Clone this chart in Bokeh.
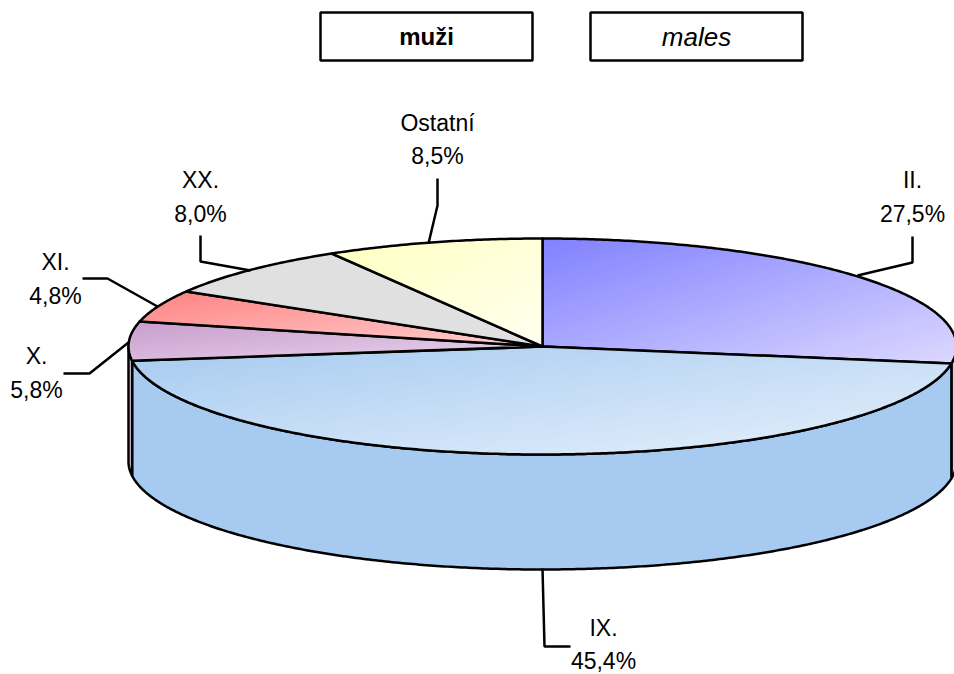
import numpy as np
from bokeh.embed import file_html
from bokeh.resources import INLINE
from bokeh.plotting import figure
from bokeh.models import Range1d
from bokeh.core.properties import value

# ---- chart data (clockwise from the top of the pie)
categories = ["II.", "IX.", "X.", "XI.", "XX.", "Ostatní"]
shares = [27.5, 45.4, 5.8, 4.8, 8.0, 8.5]
titles = ["muži", "males"]

# ---- styling: gradient start, gradient end, side wall
color_from = ["#8080FF", "#A6CAF0", "#C89CCC", "#FF8080", "#E0E0E0", "#FFFFC0"]
color_to = ["#DCD8FF", "#E6F0FC", "#E8D4EC", "#FFD0D0", "#E0E0E0", "#FFFFF0"]
side_color = {"II.": "#CCCCFF", "IX.": "#A6CAF0", "X.": "#E6CCE6"}

# ---- layout in page pixels
W, H = 954, 674
CX, CY, RX, RY, DEPTH = 542, 346, 414, 108, 115
LINE = 2.5
label_font = value("Liberation Sans")
label_pos = {"II.": (912, 179, 213), "IX.": (603, 627, 660), "X.": (36, 355, 389),
             "XI.": (55, 261, 295), "XX.": (200, 179, 213), "Ostatní": (437, 122, 155)}
leaders = {"II.": [(912, 236), (912, 262), (857, 275)],
           "IX.": [(542, 568), (544, 646), (570, 646)],
           "X.": [(63, 373), (89, 373), (128, 342)],
           "XI.": [(82, 278), (107, 278), (157, 306)],
           "XX.": [(200, 235), (200, 261), (250, 270)],
           "Ostatní": [(437, 178), (437, 205), (428, 243)]}
boxes = [(320, 532, 12, 60), (590, 802, 12, 60)]


def rim(a0, a1, dy=0.0, step=0.5):
    n = max(2, int(abs(a1 - a0) / step) + 1)
    a = np.radians(np.linspace(a0, a1, n))
    return CX + RX * np.sin(a), CY + dy - RY * np.cos(a)


def clip(poly, f, lo, hi):
    """Sutherland-Hodgman clip to lo <= f(point) <= hi."""
    for sign, lim in ((1, lo), (-1, -hi)):
        out = []
        for i in range(len(poly)):
            p, q = poly[i], poly[(i + 1) % len(poly)]
            dp, dq = sign * f(p) - lim, sign * f(q) - lim
            if dp >= 0:
                out.append(p)
            if (dp >= 0) != (dq >= 0):
                out.append(p + (q - p) * dp / (dp - dq))
        poly = out
        if not poly:
            return poly
    return poly


def rgb(h):
    return np.array([int(h[i:i + 2], 16) for i in (1, 3, 5)], float)


p = figure(width=W, height=H, x_range=Range1d(0, W), y_range=Range1d(H, 0),
           toolbar_location=None, output_backend="svg", min_border=0,
           outline_line_color=None, background_fill_color="white")
p.axis.visible = False
p.grid.visible = False
p.styles = {"position": "absolute", "left": "0px", "top": "0px"}

edges = np.concatenate([[0], np.cumsum(shares)]) * 3.6
# ---- side walls: only the front half is visible
for name, a0, a1 in zip(categories, edges[:-1], edges[1:]):
    lo, hi = max(a0, 90), min(a1, 270)
    if hi <= lo:
        continue
    tx, ty = rim(lo, hi)
    bx, by = rim(hi, lo, DEPTH)
    xs = np.concatenate([tx, bx, tx[:1]])
    ys = np.concatenate([ty, by, ty[:1]])
    p.patch(xs, ys, fill_color=side_color[name], line_color="black",
            line_width=LINE, line_join="round")

# ---- top face: gradient bands, then the outline
for name, a0, a1, c0, c1 in zip(categories, edges[:-1], edges[1:], color_from, color_to):
    rx, ry = rim(a0, a1)
    xs = np.concatenate([[CX], rx])
    ys = np.concatenate([[CY], ry])
    poly = [np.array(q) for q in zip(xs, ys)]
    x0, x1, y0, y1 = xs.min(), xs.max(), ys.min(), ys.max()
    f = lambda q: ((q[0] - x0) / (x1 - x0) + (q[1] - y0) / (y1 - y0)) / 2
    N = 48
    bx, by, col = [], [], []
    for k in range(N):
        part = clip(poly, f, k / N, (k + 1) / N)
        if len(part) < 3:
            continue
        part = np.array(part)
        bx.append(part[:, 0].tolist())
        by.append(part[:, 1].tolist())
        c = rgb(c0) + (rgb(c1) - rgb(c0)) * (k + 0.5) / N
        col.append("#%02x%02x%02x" % tuple(int(round(v)) for v in c))
    p.patches(bx, by, fill_color=col, line_color=col, line_width=0.8)
    p.patch(np.append(xs, CX), np.append(ys, CY), fill_color=None, line_color="black",
            line_width=LINE, line_join="round")

# ---- leaders and labels
for name, v in zip(categories, shares):
    pts = leaders[name]
    p.line([q[0] for q in pts], [q[1] for q in pts], line_color="black", line_width=LINE)
    x, y1, y2 = label_pos[name]
    p.text([x, x], [y1, y2], text=[name, f"{v:.1f}".replace(".", ",") + "%"],
           text_font=label_font, text_font_size="23px", text_color="black",
           text_align="center", text_baseline="middle")

# ---- title boxes
for (l, r, t, b), txt, style, size in zip(boxes, titles, ["bold", "italic"], ["24px", "26px"]):
    p.quad(left=[l], right=[r], top=[t], bottom=[b], fill_color="white",
           line_color="black", line_width=LINE)
    p.text([(l + r) / 2], [(t + b) / 2], text=[txt], text_font=value("Liberation Sans"),
           text_font_size=size, text_font_style=style, text_color="black",
           text_align="center", text_baseline="middle")

open("out.html", "w").write(file_html(p, INLINE))
